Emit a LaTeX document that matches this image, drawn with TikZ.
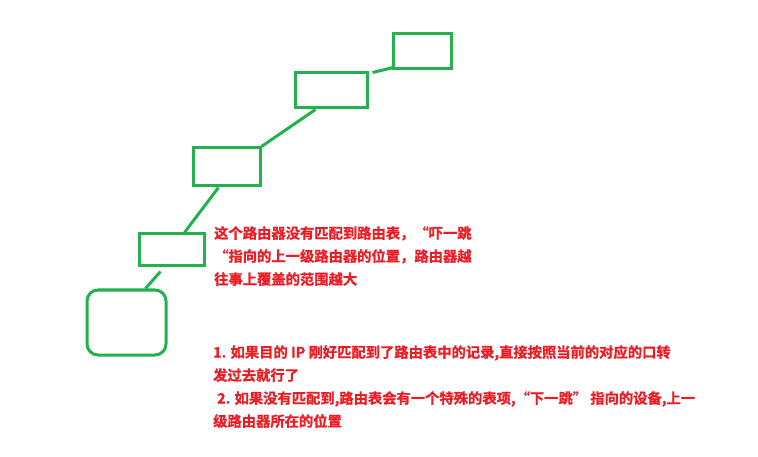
\documentclass[tikz,border=0pt]{standalone}
\usepackage{fontspec}
\newfontfamily\cjk{Noto Sans CJK SC Bold}[FakeBold=1.2]
\definecolor{boxgreen}{RGB}{34,177,76}
\definecolor{notered}{RGB}{236,28,36}

\begin{document}
\begin{tikzpicture}[x=1pt,y=-1pt,
    router/.style={draw=boxgreen,line width=3pt,minimum width=#1,inner sep=0pt},
    link/.style={draw=boxgreen,line width=3pt},
    note/.style={text=notered,font=\cjk\fontsize{14.3}{23}\selectfont,
        align=left,inner sep=0pt,anchor=north west}]
        % Fix the page size
        \useasboundingbox (0,0) rectangle (758,457);

        % Routers, from top right down to the host
        \node[router=58pt,minimum height=35pt] (r1) at (422,51.5) {};
        \node[router=72pt,minimum height=35pt] (r2) at (331,90.5) {};
        \node[router=67pt,minimum height=38pt] (r3) at (226.5,167) {};
        \node[router=65pt,minimum height=32pt] (r4) at (171.5,250) {};
        \node[router=79pt,minimum height=65pt,rounded corners=11pt] (host) at (126.5,322.5) {};

        % Links between them
        \draw[link] ([shift={(4,1)}]r2.north east) -- ([shift={(2,-3)}]r1.south west);
        \draw[link] ([xshift=22pt]r2.south west) -- (r3.north east);
        \draw[link] ([xshift=27pt]r3.south west) -- ([xshift=47pt]r4.north west);
        \draw[link] ([shift={(23,4)}]r4.south west) -- ([xshift=60pt]host.north west);

        % Notes in red
        \node[note] (note1) at (214,226) {这个路由器没有匹配到路由表，“吓一跳\\
            “指向的上一级路由器的位置，路由器越\\
            往事上覆盖的范围越大};
        \node[note] (note2) at (213,345) {1. 如果目的 IP 刚好匹配到了路由表中的记录,直接按照当前的对应的口转\\
            发过去就行了\\
            \hspace{4pt}2. 如果没有匹配到,路由表会有一个特殊的表项,“下一跳” 指向的设备,上一\\
            级路由器所在的位置};
    \end{tikzpicture}
\end{document}
